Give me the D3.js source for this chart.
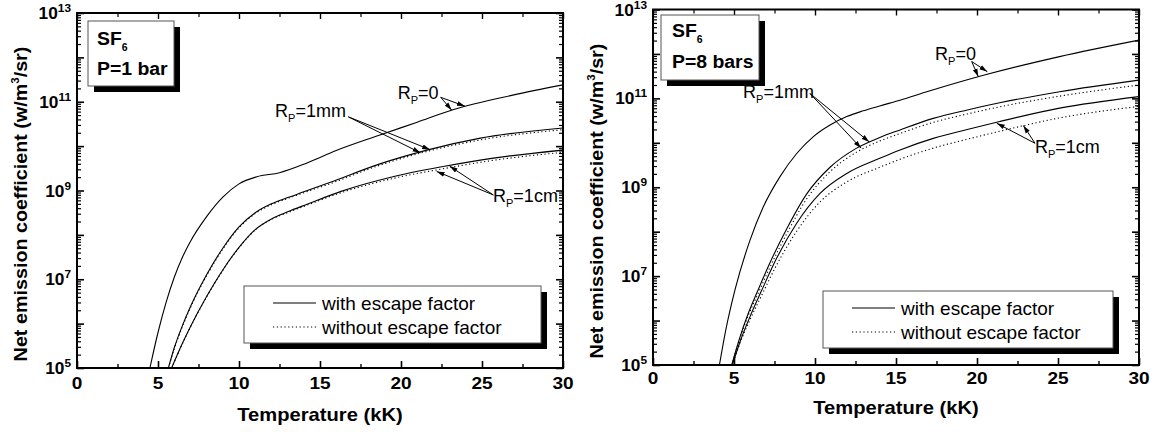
<!DOCTYPE html>
<html><head><meta charset="utf-8">
<script src="https://cdn.jsdelivr.net/npm/d3@7"></script>
<style>
body{margin:0;background:#fff}
svg{display:block}
text{font-family:"Liberation Sans",Arial,Helvetica,sans-serif;fill:#000}
</style>
</head><body>
<svg id="c" width="1156" height="432"></svg>
<script>
// ---------------- DATA ----------------
const xTickValues = [0, 5, 10, 15, 20, 25, 30];
const xMinorTickValues = [2.5, 7.5, 12.5, 17.5, 22.5, 27.5];
const yTickExponents = [5, 7, 9, 11, 13];
const xAxisTitle = "Temperature (kK)";
const yAxisTitleMain = "Net emission coefficient (w/m";
const yAxisTitleSup = "3";
const yAxisTitleEnd = "/sr)";
const legendLabels = ["with escape factor", "without escape factor"];
const panelGas = "SF";
const panelGasSub = "6";
const panelPressure = ["P=1 bar", "P=8 bars"];
const radiusLabels = ["=0", "=1mm", "=1cm"];

// values are log10 of the net emission coefficient (W/m3/sr), T in kK
// P = 1 bar
const p1_T_R0   = [4.5, 5.0, 5.5, 6.0, 6.5, 7.0, 8.0, 9.0, 10.0, 11.1, 12.5, 14.2, 16.0, 18.7, 21.0, 23.2, 26.9, 30];
const p1_R0     = [5.0, 5.8, 6.48, 7.04, 7.49, 7.85, 8.41, 8.85, 9.15, 9.31, 9.40, 9.62, 9.90, 10.25, 10.54, 10.82, 11.15, 11.38];
const p1_T_1mm  = [5.64, 6.0, 6.5, 7.0, 8.0, 9.0, 10.0, 11.0, 12.0, 13.0, 14.0, 15.6, 18.7, 21.6, 24.9, 30];
const p1_1mm    = [5.0, 5.45, 5.95, 6.38, 7.1, 7.7, 8.18, 8.50, 8.70, 8.84, 8.97, 9.18, 9.60, 9.91, 10.18, 10.41];
const p1_1mm_nf = [5.0, 5.43, 5.93, 6.36, 7.08, 7.68, 8.16, 8.48, 8.68, 8.82, 8.95, 9.15, 9.57, 9.88, 10.14, 10.37];
const p1_T_1cm  = [5.84, 6.5, 7.0, 8.0, 9.0, 10.0, 11.0, 12.0, 13.0, 14.2, 16.3, 19.5, 22.6, 25.7, 30];
const p1_1cm    = [5.0, 5.55, 5.93, 6.61, 7.21, 7.72, 8.12, 8.36, 8.52, 8.69, 8.98, 9.31, 9.54, 9.73, 9.91];
const p1_1cm_nf = [5.0, 5.54, 5.92, 6.60, 7.20, 7.71, 8.11, 8.35, 8.50, 8.67, 8.95, 9.27, 9.49, 9.68, 9.86];

// P = 8 bars
const p8_T_R0   = [4.1, 4.5, 5.06, 5.99, 6.81, 7.84, 8.87, 9.9, 10.93, 11.96, 12.98, 14.0, 15.25, 17.0, 20.4, 25.1, 30];
const p8_R0     = [5.0, 5.8, 6.69, 7.81, 8.56, 9.24, 9.76, 10.14, 10.40, 10.59, 10.72, 10.83, 10.96, 11.16, 11.52, 11.94, 12.31];
const p8_T_1mm  = [4.86, 5.3, 5.9, 6.5, 7.22, 8.25, 9.49, 10.93, 12.57, 14.0, 15.25, 17.3, 19.4, 21.4, 25.1, 30];
const p8_1mm    = [5.0, 5.55, 6.18, 6.70, 7.30, 8.06, 8.85, 9.45, 9.88, 10.12, 10.29, 10.55, 10.74, 10.90, 11.15, 11.41];
const p8_1mm_nf = [5.0, 5.53, 6.13, 6.62, 7.20, 7.95, 8.74, 9.35, 9.79, 10.04, 10.21, 10.46, 10.65, 10.81, 11.05, 11.30];
const p8_T_1cm  = [4.9, 5.4, 6.0, 6.71, 7.63, 8.87, 10.31, 11.96, 14.0, 15.25, 17.3, 19.4, 21.4, 25.1, 30];
const p8_1cm    = [5.0, 5.55, 6.10, 6.68, 7.40, 8.19, 8.86, 9.31, 9.65, 9.84, 10.10, 10.30, 10.48, 10.78, 11.04];
const p8_1cm_nf = [5.0, 5.52, 6.03, 6.57, 7.25, 8.01, 8.67, 9.12, 9.45, 9.63, 9.88, 10.08, 10.26, 10.56, 10.82];

// annotation anchors in data units: [T, log10]
const p1_annot = [
  {label: 0, text: [19.8, 11.06], anchor: "start", from: [22.45, 11.10], to: [[23.13, 10.81], [23.95, 10.90]]},
  {label: 1, text: [16.6, 10.66], anchor: "end",   from: [16.75, 10.66], to: [[21.2, 9.85], [21.8, 9.92]]},
  {label: 2, text: [25.68, 8.75], anchor: "start", from: [25.7, 8.90],   to: [[22.2, 9.43], [23.0, 9.55]]}
];
const p8_annot = [
  {label: 0, text: [17.41, 11.86], anchor: "start", from: [19.67, 11.83], to: [[20.08, 11.49], [20.64, 11.60]]},
  {label: 1, text: [5.56, 11.01],  anchor: "start", from: [9.69, 11.11],  to: [[12.85, 9.88], [13.35, 10.02]]},
  {label: 2, text: [23.58, 9.78],  anchor: "start", from: [23.58, 9.99],  to: [[21.22, 10.44], [22.86, 10.39]]}
];

// ---------------- LAYOUT ----------------
const panels = [
  {key: "a", xr: [77, 563], yr: [368, 13], pressure: panelPressure[0],
   box: {x: 88, y: 21, w: 86, h: 65, tx: 9, ty1: 24, ty2: 54},
   legend: {x: 244, y: 286, w: 297, h: 57},
   xLabelY: 389, xTitleY: 421, yTitleX: 27, yTitleY: 204,
   series: [[p1_T_R0, p1_R0, false], [p1_T_1mm, p1_1mm, false], [p1_T_1mm, p1_1mm_nf, true],
            [p1_T_1cm, p1_1cm, false], [p1_T_1cm, p1_1cm_nf, true]],
   annot: p1_annot},
  {key: "b", xr: [653, 1139], yr: [365, 9.5], pressure: panelPressure[1],
   box: {x: 661, y: 15, w: 98, h: 65, tx: 11, ty1: 22, ty2: 53},
   legend: {x: 823, y: 291, w: 290, h: 57},
   xLabelY: 384, xTitleY: 414, yTitleX: 603, yTitleY: 201,
   series: [[p8_T_R0, p8_R0, false], [p8_T_1mm, p8_1mm, false], [p8_T_1mm, p8_1mm_nf, true],
            [p8_T_1cm, p8_1cm, false], [p8_T_1cm, p8_1cm_nf, true]],
   annot: p8_annot}
];

const svg = d3.select("#c");
const defs = svg.append("defs");
defs.append("marker").attr("id", "arr").attr("viewBox", "0 0 8 6")
  .attr("refX", 8).attr("refY", 3).attr("markerWidth", 8).attr("markerHeight", 6)
  .attr("markerUnits", "userSpaceOnUse").attr("orient", "auto")
  .append("path").attr("d", "M0,0.6 L8,3 L0,5.4 Z").attr("fill", "#000");

const yMajor = d3.range(5, 14).map(e => Math.pow(10, e));
const yMinor = [];
for (let e = 5; e < 13; e++) for (let k = 2; k <= 9; k++) yMinor.push(k * Math.pow(10, e));

function styleAxis(sel, w) {
  sel.select(".domain").remove();
  sel.selectAll(".tick line").attr("stroke", "#000").attr("stroke-width", w);
  sel.selectAll(".tick text").remove();
}
// text placed with a slight horizontal stretch, like the reference typeface
function stext(g, x, y, sx, rot) {
  return g.append("text").attr("transform", `translate(${x},${y})${rot ? " rotate(" + rot + ")" : ""} scale(${sx},1)`);
}

panels.forEach(p => {
  const x = d3.scaleLinear().domain([0, 30]).range(p.xr);
  const y = d3.scaleLog().domain([1e5, 1e13]).range(p.yr);
  const g = svg.append("g");
  const x0 = p.xr[0], x1 = p.xr[1], yT = p.yr[1], yB = p.yr[0];

  defs.append("clipPath").attr("id", "clip" + p.key).append("rect")
    .attr("x", x0).attr("y", yT).attr("width", x1 - x0).attr("height", yB - yT);

  // curves
  const line = d3.line().x(d => x(d[0])).y(d => y(Math.pow(10, d[1]))).curve(d3.curveMonotoneX);
  const cg = g.append("g").attr("clip-path", `url(#clip${p.key})`);
  p.series.forEach(([T, V, dotted]) => {
    cg.append("path").datum(T.map((t, i) => [t, V[i]]))
      .attr("d", line).attr("fill", "none").attr("stroke", "#000")
      .attr("stroke-width", 1.1)
      .attr("stroke-dasharray", dotted ? "1.2,2.6" : null);
  });

  // axes ticks (inward)
  g.append("g").attr("transform", `translate(0,${yB})`)
    .call(d3.axisBottom(x).tickValues(xTickValues).tickSizeInner(-7).tickSizeOuter(0)).call(s => styleAxis(s, 1.6));
  g.append("g").attr("transform", `translate(0,${yB})`)
    .call(d3.axisBottom(x).tickValues(xMinorTickValues).tickSizeInner(-4).tickSizeOuter(0)).call(s => styleAxis(s, 1.4));
  g.append("g").attr("transform", `translate(0,${yT})`)
    .call(d3.axisTop(x).tickValues(xTickValues).tickSizeInner(-6).tickSizeOuter(0)).call(s => styleAxis(s, 1.4));
  g.append("g").attr("transform", `translate(0,${yT})`)
    .call(d3.axisTop(x).tickValues(xMinorTickValues).tickSizeInner(-4).tickSizeOuter(0)).call(s => styleAxis(s, 1.2));
  g.append("g").attr("transform", `translate(${x0},0)`)
    .call(d3.axisLeft(y).tickValues(yMajor).tickSizeInner(-7).tickSizeOuter(0)).call(s => styleAxis(s, 1.6));
  g.append("g").attr("transform", `translate(${x0},0)`)
    .call(d3.axisLeft(y).tickValues(yMinor).tickSizeInner(-4).tickSizeOuter(0)).call(s => styleAxis(s, 1.2));
  g.append("g").attr("transform", `translate(${x1},0)`)
    .call(d3.axisRight(y).tickValues(yMajor).tickSizeInner(-7).tickSizeOuter(0)).call(s => styleAxis(s, 1.6));
  g.append("g").attr("transform", `translate(${x1},0)`)
    .call(d3.axisRight(y).tickValues(yMinor).tickSizeInner(-4).tickSizeOuter(0)).call(s => styleAxis(s, 1.2));

  // frame
  g.append("rect").attr("x", x0).attr("y", yT).attr("width", x1 - x0).attr("height", yB - yT)
    .attr("fill", "none").attr("stroke", "#000").attr("stroke-width", 2);

  // x tick labels
  xTickValues.forEach(v => {
    stext(g, x(v), p.xLabelY, 1.12).attr("text-anchor", "middle")
      .attr("font-size", 17).attr("font-weight", "bold").text(v);
  });

  // y tick labels
  yTickExponents.forEach(e => {
    const t = stext(g, x0 - 6, y(Math.pow(10, e)) + 6, 1.08).attr("text-anchor", "end").attr("font-weight", "bold");
    t.append("tspan").attr("font-size", 16).text("10");
    t.append("tspan").attr("font-size", 11).attr("dy", -7).text(e);
  });

  // axis titles
  stext(g, (x0 + x1) / 2, p.xTitleY, 1.12).attr("text-anchor", "middle")
    .attr("font-size", 18).attr("font-weight", "bold").text(xAxisTitle);
  const yt = stext(g, p.yTitleX, p.yTitleY, 1.04, -90)
    .attr("text-anchor", "middle").attr("font-size", 19).attr("font-weight", "bold");
  yt.append("tspan").text(yAxisTitleMain);
  yt.append("tspan").attr("font-size", 11).attr("dy", -8).text(yAxisTitleSup);
  yt.append("tspan").attr("dy", 8).text(yAxisTitleEnd);

  // label box
  const b = p.box;
  g.append("rect").attr("x", b.x + 6).attr("y", b.y + 6).attr("width", b.w).attr("height", b.h).attr("fill", "#000");
  g.append("rect").attr("x", b.x).attr("y", b.y).attr("width", b.w).attr("height", b.h)
    .attr("fill", "#fff").attr("stroke", "#555").attr("stroke-width", 1);
  const st = stext(g, b.x + b.tx, b.y + b.ty1, 1.05).attr("font-size", 18.5).attr("font-weight", "bold");
  st.append("tspan").text(panelGas);
  st.append("tspan").attr("font-size", 10).attr("dy", 6).text(panelGasSub);
  stext(g, b.x + b.tx, b.y + b.ty2, 1.05).attr("font-size", 18.5).attr("font-weight", "bold")
    .text(p.pressure);

  // legend
  const L = p.legend;
  g.append("rect").attr("x", L.x + 6).attr("y", L.y + 6).attr("width", L.w).attr("height", L.h).attr("fill", "#000");
  g.append("rect").attr("x", L.x).attr("y", L.y).attr("width", L.w).attr("height", L.h)
    .attr("fill", "#fff").attr("stroke", "#555").attr("stroke-width", 1);
  legendLabels.forEach((lab, i) => {
    const ly = L.y + 17 + i * 24;
    g.append("line").attr("x1", L.x + 29).attr("x2", L.x + 72).attr("y1", ly).attr("y2", ly)
      .attr("stroke", "#000").attr("stroke-width", 1.1).attr("stroke-dasharray", i ? "1.2,2.6" : null);
    g.append("text").attr("x", L.x + 78).attr("y", ly + 7).attr("font-size", 19).text(lab);
  });

  // annotations
  p.annot.forEach(a => {
    const t = g.append("text").attr("x", x(a.text[0])).attr("y", y(Math.pow(10, a.text[1])))
      .attr("text-anchor", a.anchor).attr("font-size", 18);
    t.append("tspan").text("R");
    t.append("tspan").attr("font-size", 11).attr("dy", 5).text("P");
    t.append("tspan").attr("dy", -5).text(radiusLabels[a.label]);
    a.to.forEach(tp => {
      g.append("line").attr("x1", x(a.from[0])).attr("y1", y(Math.pow(10, a.from[1])))
        .attr("x2", x(tp[0])).attr("y2", y(Math.pow(10, tp[1])))
        .attr("stroke", "#000").attr("stroke-width", 1).attr("marker-end", "url(#arr)");
    });
  });
});
</script>
</body></html>
